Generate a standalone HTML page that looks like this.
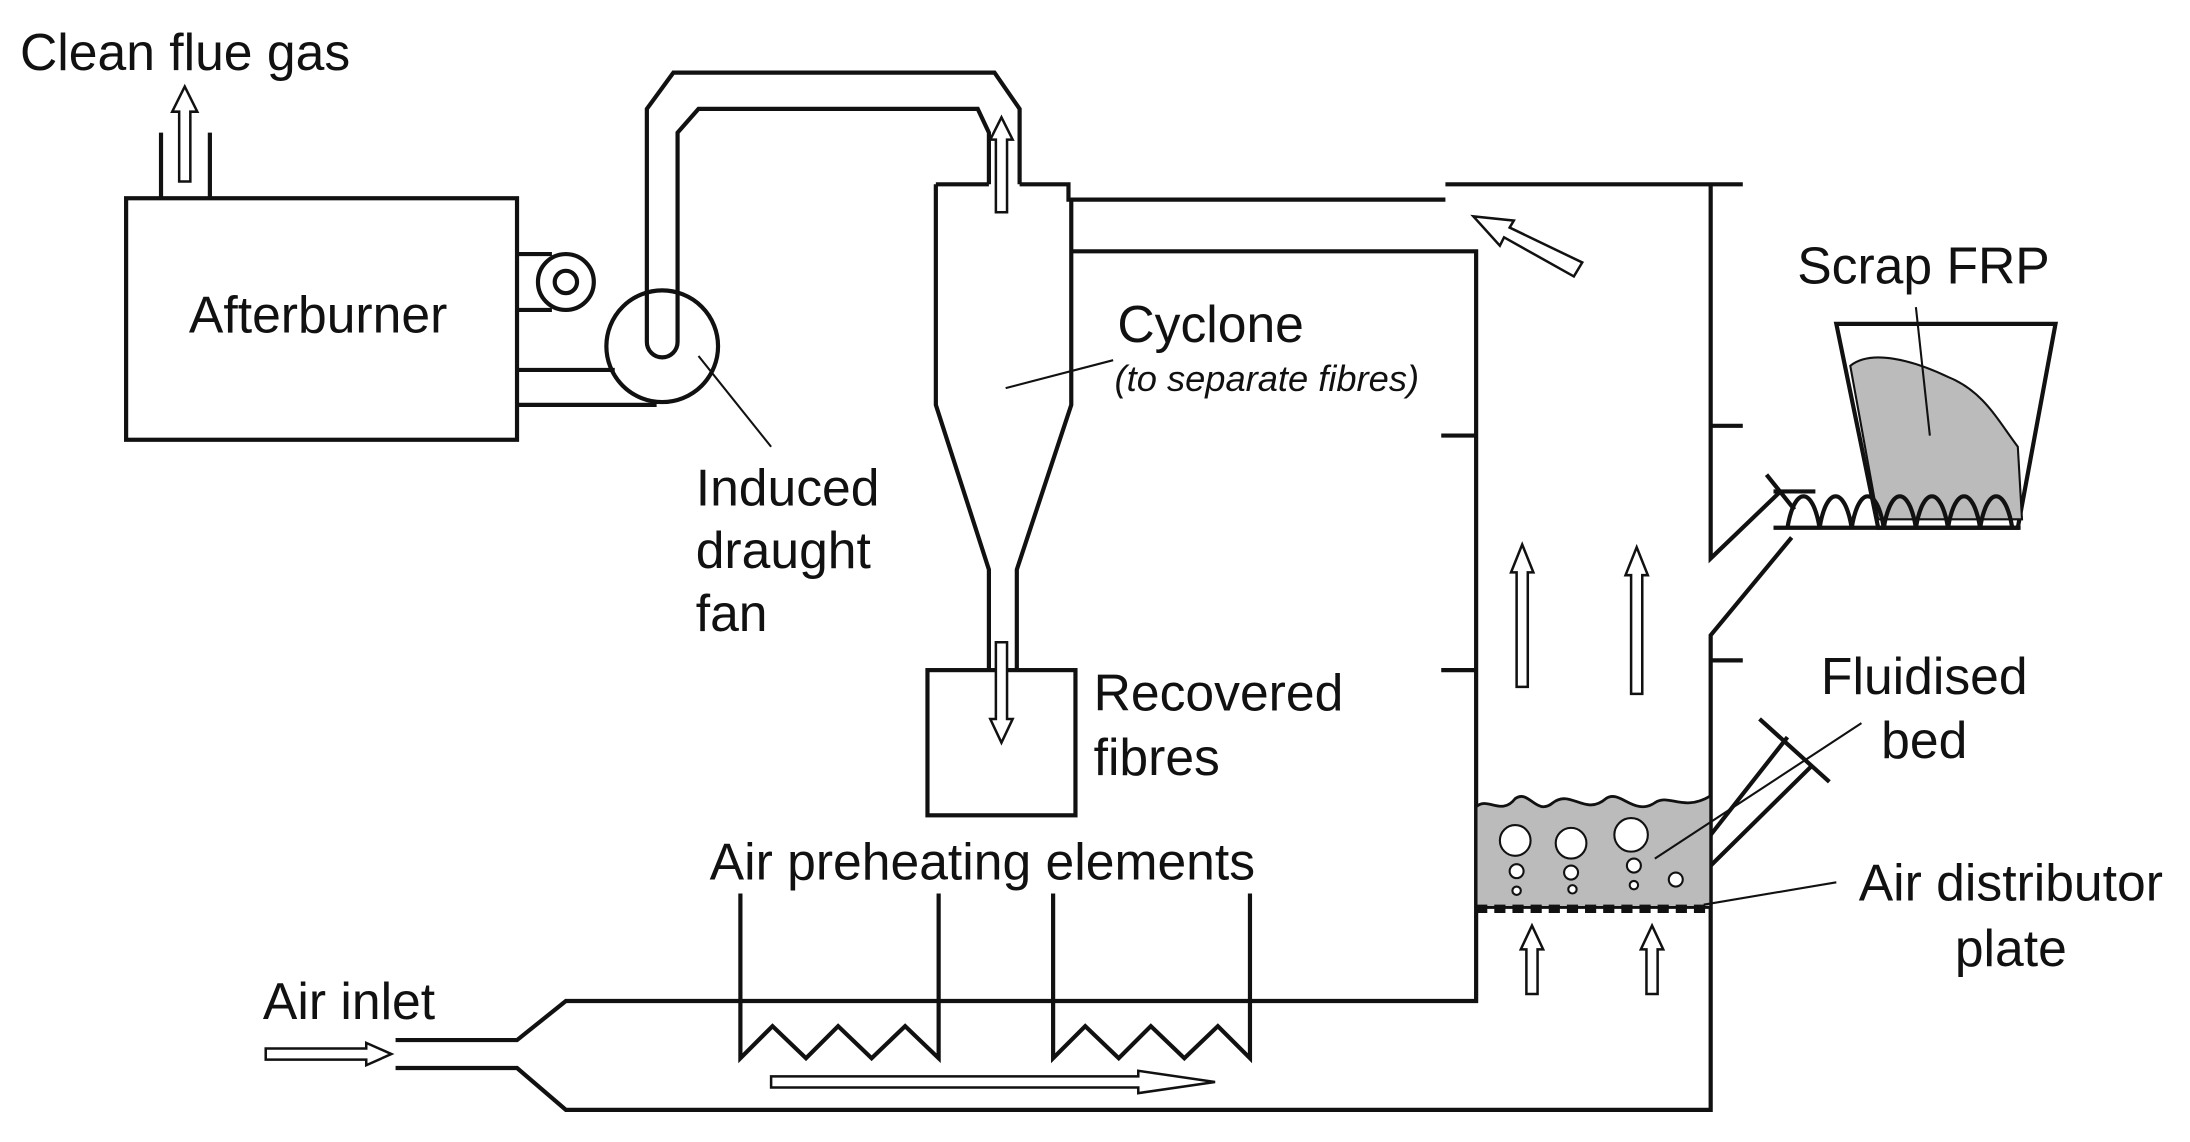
<!DOCTYPE html>
<html><head><meta charset="utf-8"><style>
html,body{margin:0;padding:0;background:#fff}
svg{display:block}
text{font-family:"Liberation Sans",Arial,sans-serif;font-size:37px;fill:#111}
</style></head><body>
<svg width="2190" height="1142" viewBox="0 0 1568 818" xmlns="http://www.w3.org/2000/svg">
<g fill="none" stroke="#111" stroke-width="3" stroke-linejoin="miter">
<line x1="115" y1="95" x2="115" y2="142"/><line x1="150" y1="95" x2="150" y2="142"/>
<rect x="90" y="142" width="280" height="173"/>
<line x1="370" y1="182" x2="395" y2="182"/><line x1="370" y1="222" x2="395" y2="222"/>
<circle cx="405" cy="202" r="20"/><circle cx="405" cy="202" r="8"/>
<line x1="370" y1="265" x2="440" y2="265"/><line x1="370" y1="290" x2="470" y2="290"/>
<circle cx="474" cy="248" r="40"/>
<path d="M463,245 V78 L482,52 H712 L730,78 V132"/>
<path d="M485,245 V95 L500,78 H700 L708,95 V132"/>
<path d="M463,245 A11,11 0 0 0 485,245"/>
<path d="M670,132 H708 M730,132 H765 V143 H1035 M1035,132 H1248"/>
<path d="M670,132 V290 L708,408 V480"/>
<path d="M767,143 V290 L728,408 V480"/>
<rect x="664" y="480" width="106" height="104"/>
<path d="M767,180 H1057 V717 H405 L370,745 H283"/>
<path d="M283,765 H370 L405,795 H1225 V455 L1283,385"/>
<path d="M1225,132 V400 L1275,352"/>
<line x1="1032" y1="312" x2="1057" y2="312"/><line x1="1032" y1="480" x2="1057" y2="480"/>
<line x1="1225" y1="305" x2="1248" y2="305"/><line x1="1225" y1="473" x2="1248" y2="473"/>
<path d="M530,640 V758 L553,735 L577,758 L600,735 L624,758 L648,735 L672,758 V640"/>
<path d="M754,640 V758 L777,735 L801,758 L824,735 L848,758 L872,735 L895,758 V640"/>
<line x1="1225" y1="598" x2="1280" y2="528"/><line x1="1225" y1="620" x2="1298" y2="548"/>
<line x1="1260" y1="515" x2="1310" y2="560"/>
<path d="M1315,232 H1472 L1445,378 H1345 Z"/>
</g>
<path d="M1325,262 C1340,250 1370,258 1395,270 C1420,280 1430,300 1445,320 L1448,372 H1345 Z" fill="#bbb" stroke="#111" stroke-width="1.5"/>
<g fill="none" stroke="#111" stroke-width="3">
<line x1="1270" y1="378" x2="1447" y2="378"/><line x1="1270" y1="352" x2="1300" y2="352"/>
<path d="M1280,378 C1285,348 1298,348 1303,378 C1308,348 1321,348 1326,378 C1331,348 1344,348 1349,378 C1354,348 1367,348 1372,378 C1377,348 1390,348 1395,378 C1400,348 1413,348 1418,378 C1423,348 1436,348 1441,378"/>
<line x1="1265" y1="340" x2="1285" y2="365"/>
</g>
<path d="M1057,650 V578 C1065,570 1075,585 1085,572 C1095,565 1100,585 1112,575 C1125,565 1135,585 1150,572 C1160,565 1170,585 1185,575 C1195,568 1205,582 1225,570 V650 Z" fill="#bbb" stroke="#111" stroke-width="2"/>
<g fill="#fff" stroke="#111" stroke-width="1.5">
<circle cx="1085" cy="602" r="11"/><circle cx="1125" cy="604" r="11"/><circle cx="1168" cy="598" r="12"/>
<circle cx="1086" cy="624" r="5"/><circle cx="1125" cy="625" r="5"/><circle cx="1170" cy="620" r="5"/>
<circle cx="1086" cy="638" r="3"/><circle cx="1126" cy="637" r="3"/><circle cx="1170" cy="634" r="3"/><circle cx="1200" cy="630" r="5"/>
</g>
<line x1="1057" y1="651" x2="1225" y2="651" stroke="#111" stroke-width="6" stroke-dasharray="8,5"/>
<g fill="#fff" stroke="#111" stroke-width="1.8">
<path d="M128,130 V80 H123 L132,62 L141,80 H136 V130 Z"/>
<path d="M713,152 V100 H709 L717,84 L725,100 H721 V152 Z"/>
<path d="M713,460 V515 H709 L717,532 L725,515 H721 V460 Z"/>
<path d="M1086,492 V410 H1082 L1090,390 L1098,410 H1094 V492 Z"/>
<path d="M1168,497 V412 H1164 L1172,392 L1180,412 H1176 V497 Z"/>
<path d="M1093,712 V680 H1089 L1097,663 L1105,680 H1101 V712 Z"/>
<path d="M1179,712 V680 H1175 L1183,663 L1191,680 H1187 V712 Z"/>
<path d="M1127,198 L1077,170 L1074,176 L1055,155 L1084,158 L1081,163 L1133,188 Z"/>
<path d="M190,751 H262 V747 L280,755 L262,763 V759 H190 Z"/>
<path d="M552,771 H815 V767 L870,775 L815,783 V779 H552 Z"/>
</g>
<g stroke="#111" stroke-width="1.5">
<line x1="720" y1="278" x2="797" y2="258"/>
<line x1="500" y1="255" x2="552" y2="320"/>
<line x1="1372" y1="220" x2="1382" y2="312"/>
<line x1="1333" y1="518" x2="1185" y2="615"/>
<line x1="1315" y1="632" x2="1220" y2="648"/>
</g>
<text x="14" y="50">Clean flue gas</text>
<text x="135" y="238">Afterburner</text>
<text x="800" y="245">Cyclone</text>
<text x="798" y="280" style="font-size:26px;font-style:italic">(to separate fibres)</text>
<text x="498" y="362">Induced</text><text x="498" y="407">draught</text><text x="498" y="452">fan</text>
<text x="783" y="509">Recovered</text><text x="783" y="555">fibres</text>
<text x="508" y="630">Air preheating elements</text>
<text x="188" y="730">Air inlet</text>
<text x="1287" y="203">Scrap FRP</text>
<text x="1378" y="497" text-anchor="middle">Fluidised</text><text x="1378" y="543" text-anchor="middle">bed</text>
<text x="1440" y="645" text-anchor="middle">Air distributor</text><text x="1440" y="692" text-anchor="middle">plate</text>
</svg>
</body></html>
